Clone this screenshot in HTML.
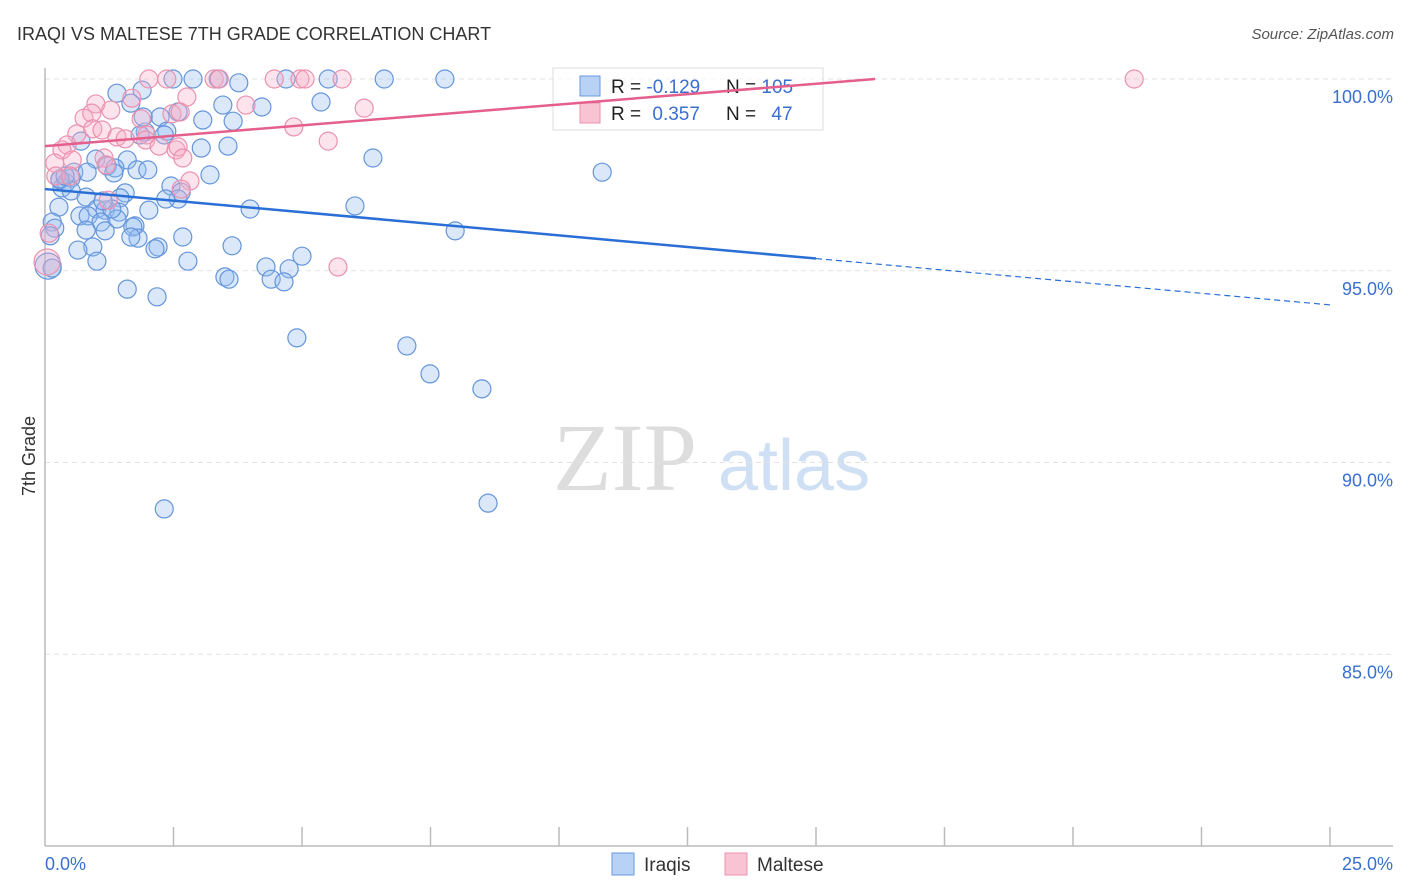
<!DOCTYPE html>
<html><head><meta charset="utf-8"><style>
body{margin:0;background:#fff;font-family:"Liberation Sans",sans-serif}
svg{display:block}
</style></head><body>
<svg id="chart" width="1406" height="892" xmlns="http://www.w3.org/2000/svg">
<text x="17" y="40" font-size="18" fill="#333">IRAQI VS MALTESE 7TH GRADE CORRELATION CHART</text>
<text x="1394" y="39" font-size="15" fill="#555" text-anchor="end" font-style="italic">Source: ZipAtlas.com</text>
<text x="35" y="456" font-size="18" fill="#333" text-anchor="middle" transform="rotate(-90 35 456)">7th Grade</text>
<g><text x="553" y="490" font-size="96" font-family="Liberation Serif,serif" fill="#ddd">ZIP</text><text x="718" y="490" font-size="72" fill="#cfe0f5">atlas</text></g>
<g id="grid"></g><g id="axes"></g>
<g>
<rect x="553" y="68" width="270" height="62" fill="rgba(255,255,255,0.7)" stroke="#ddd"/>
<rect x="580" y="76" width="20" height="20" fill="#b8d2f5" stroke="#6a9ae0"/>
<rect x="580" y="103" width="20" height="20" fill="#f8c4d3" stroke="#eb91ae"/>
<text x="611" y="93" font-size="19" fill="#222">R = <tspan fill="#3a6fd1">-0.129</tspan></text>
<text x="726" y="93" font-size="19" fill="#222">N = <tspan fill="#3a6fd1">105</tspan></text>
<text x="611" y="120" font-size="19" fill="#222">R = <tspan fill="#3a6fd1" dx="6">0.357</tspan></text>
<text x="726" y="120" font-size="19" fill="#222">N = <tspan fill="#3a6fd1" dx="10">47</tspan></text>
</g>
<g id="pts"></g><g id="trend"></g>
<g>
<rect x="612" y="853" width="22" height="22" fill="#b8d2f5" stroke="#6a9ae0"/>
<text x="644" y="871" font-size="19" fill="#333">Iraqis</text>
<rect x="725" y="853" width="22" height="22" fill="#f8c4d3" stroke="#eb91ae"/>
<text x="757" y="871" font-size="19" fill="#333">Maltese</text>
</g>
</svg>
<script>
const blueX=[1.40,1.89,2.49,2.88,3.37,3.77,4.69,5.51,6.60,7.78,1.67,3.46,4.22,5.37,3.07,3.66,2.59,2.24,2.37,1.95,0.70,3.04,3.56,6.38,0.99,1.60,1.21,0.56,0.82,1.36,1.79,2.00,3.21,10.84,0.29,0.41,0.51,2.45,1.56,0.33,0.51,0.80,2.65,1.46,2.59,3.99,6.03,2.02,0.27,1.01,1.17,1.44,0.68,0.84,0.14,1.09,1.75,0.19,1.40,0.80,1.17,1.71,7.98,0.10,2.68,1.81,1.67,0.93,0.64,2.20,2.14,3.64,5.00,2.78,1.01,0.06,0.14,4.30,4.75,3.50,3.58,4.40,4.65,1.60,2.18,4.90,7.04,7.49,8.50,2.32,8.62,0.29,0.39,1.30,1.13,1.34,1.85,1.91,2.35,2.32];
const blueY=[99.63,99.71,100,100,100,99.90,100,100,100,100,99.37,99.32,99.27,99.40,98.93,98.90,99.14,99.01,98.64,98.62,98.38,98.20,98.25,97.94,97.91,97.89,97.73,97.57,97.57,97.68,97.63,97.63,97.50,97.57,97.37,97.29,97.42,97.21,97.03,97.16,97.08,96.92,97.05,96.90,96.87,96.61,96.69,96.58,96.66,96.61,96.58,96.53,96.43,96.43,96.27,96.27,96.17,96.11,96.35,96.06,96.04,96.14,96.04,95.91,95.88,95.85,95.88,95.62,95.54,95.62,95.57,95.65,95.38,95.25,95.25,95.12,95.07,95.10,95.05,94.84,94.78,94.78,94.71,94.52,94.32,93.25,93.04,92.31,91.92,88.79,88.94,97.39,97.47,96.61,96.82,97.55,98.54,99.01,96.87,98.54];
const pinkX=[2.02,2.37,3.29,3.39,4.46,4.96,5.06,5.78,21.19,1.69,2.76,0.99,1.28,3.91,6.21,2.47,2.63,0.76,0.91,1.87,4.84,0.62,0.93,1.11,1.40,1.56,1.98,1.96,0.43,0.33,2.22,2.55,2.59,2.68,5.51,0.19,0.53,1.15,1.19,0.21,2.82,2.65,0.49,0.08,5.70,0.04,1.23];
const pinkY=[100,100,100,100,100,100,100,100,100,99.50,99.53,99.35,99.19,99.32,99.24,99.09,99.14,98.98,99.11,98.96,98.75,98.57,98.70,98.67,98.49,98.44,98.54,98.41,98.28,98.15,98.25,98.15,98.23,97.94,98.38,97.81,97.89,97.94,97.76,97.47,97.34,97.13,97.47,95.98,95.10,95.23,96.84];
const yTicks=[100,95,90,85];
const yTickLabels=["100.0%","95.0%","90.0%","85.0%"];
const blueTrend=[97.13,94.11];
const pinkTrend=[98.25,100];
const NS="http://www.w3.org/2000/svg";
const sx=v=>45+v*51.4, sy=v=>79+(100-v)*38.35;
function mk(tag,attrs,parent){const e=document.createElementNS(NS,tag);for(const k in attrs)e.setAttribute(k,attrs[k]);document.getElementById(parent).appendChild(e);return e;}
yTicks.forEach((t,i)=>{
  const l=mk('line',{x1:45,x2:1393,y1:sy(t),y2:sy(t),stroke:'#e2e2e2','stroke-dasharray':'5,4'},'grid');
  
  
  const tx=mk('text',{x:1393,y:sy(t)+24,'font-size':18,fill:'#3a6fd1','text-anchor':'end'},'grid');
  tx.textContent=yTickLabels[i];
  
  
});
const ax=mk('line',{x1:45,x2:45,y1:68,y2:846,stroke:'#bbb','stroke-width':1.5},'axes');


const bx=mk('line',{x1:45,x2:1393,y1:846,y2:846,stroke:'#bbb','stroke-width':1.5},'axes');


for(let i=1;i<=10;i++){const t=mk('line',{x1:sx(i*2.5),x2:sx(i*2.5),y1:827,y2:846,stroke:'#bbb','stroke-width':1.5},'axes');
  
  }
const l0=mk('text',{x:45,y:870,'font-size':18,fill:'#3a6fd1'},'axes');l0.textContent='0.0%';


const l1=mk('text',{x:1393,y:870,'font-size':18,fill:'#3a6fd1','text-anchor':'end'},'axes');l1.textContent='25.0%';


blueX.forEach((x,i)=>{const c=mk('circle',{cx:sx(x),cy:sy(blueY[i]),r:(i==75?13:9),fill:'rgba(150,190,240,0.35)',stroke:'#6595da','stroke-width':1.2},'pts');
  
  });
pinkX.forEach((x,i)=>{const c=mk('circle',{cx:sx(x),cy:sy(pinkY[i]),r:(i==45?13:9),fill:'rgba(245,175,200,0.35)',stroke:'#eb91ae','stroke-width':1.2},'pts');
  
  });
const bslope=(blueTrend[1]-blueTrend[0])/25;
const t1=mk('line',{x1:sx(0),y1:sy(blueTrend[0]),x2:sx(15),y2:sy(blueTrend[0]+bslope*15),stroke:'#2a6fd6','stroke-width':2.5},'trend');


const t2=mk('line',{x1:sx(15),y1:sy(blueTrend[0]+bslope*15),x2:sx(25),y2:sy(blueTrend[1]),stroke:'#2a6fd6','stroke-width':1.2,'stroke-dasharray':'6,4'},'trend');


const t3=mk('line',{x1:sx(0),y1:sy(pinkTrend[0]),x2:sx(16.15),y2:sy(pinkTrend[1]),stroke:'#e55f8d','stroke-width':2.5},'trend');


</script>
</body></html>
